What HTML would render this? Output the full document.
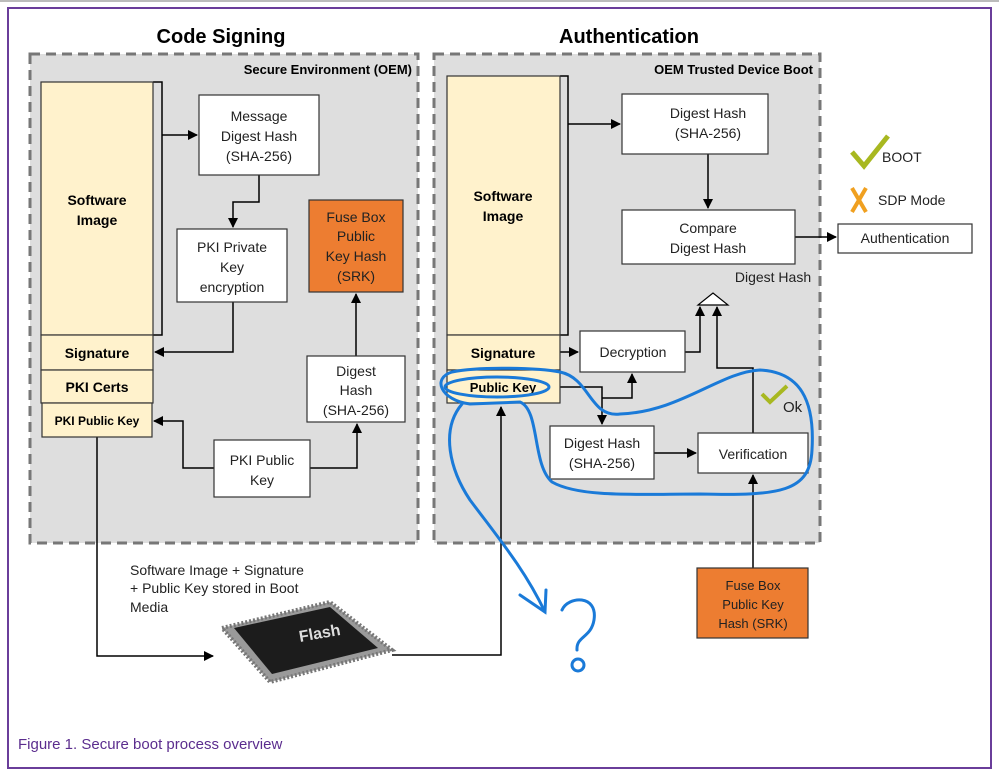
<!DOCTYPE html>
<html><head><style>
html,body{margin:0;padding:0;background:#fff;}
svg{display:block;font-family:"Liberation Sans",sans-serif;}
.b{font-weight:bold;}
</style></head><body>
<svg width="999" height="779" viewBox="0 0 999 779" xmlns="http://www.w3.org/2000/svg">
<defs>
<marker id="a" markerWidth="10" markerHeight="10" refX="9" refY="5" orient="auto" markerUnits="userSpaceOnUse"><path d="M0,0 L10,5 L0,10 Z" fill="#000"/></marker>
</defs>
<rect x="0" y="0" width="999" height="2" fill="#bbb"/>
<rect x="8" y="8" width="983" height="760" fill="#fff" stroke="#6a3d9a" stroke-width="2"/>
<text x="221" y="43" font-size="20" class="b" text-anchor="middle">Code Signing</text>
<text x="629" y="43" font-size="20" class="b" text-anchor="middle">Authentication</text>
<rect x="30" y="54" width="388" height="489" fill="#dedede" stroke="#777" stroke-width="3" stroke-dasharray="10,6"/>
<rect x="434" y="54" width="386" height="489" fill="#dedede" stroke="#777" stroke-width="3" stroke-dasharray="10,6"/>
<text x="412" y="74" font-size="13" class="b" text-anchor="end">Secure Environment (OEM)</text>
<text x="813" y="74" font-size="13" class="b" text-anchor="end">OEM Trusted Device Boot</text>
<g stroke="#000" stroke-width="1.5" fill="none">
<path d="M153,82 H162 V335 H153"/>
<path d="M162,135 H197" marker-end="url(#a)"/>
<path d="M259,175 V202 H233 V227" marker-end="url(#a)"/>
<path d="M233,302 V352 H155" marker-end="url(#a)"/>
<path d="M356,356 V294" marker-end="url(#a)"/>
<path d="M214,468 H183 V421 H154" marker-end="url(#a)"/>
<path d="M310,468 H357 V424" marker-end="url(#a)"/>
<path d="M97,437 V656 H213" marker-end="url(#a)"/>
<path d="M392,655 H501 V407" marker-end="url(#a)"/>
<path d="M560,76 H568 V335 H560"/>
<path d="M568,124 H620" marker-end="url(#a)"/>
<path d="M708,154 V208" marker-end="url(#a)"/>
<path d="M795,237 H836" marker-end="url(#a)"/>
<path d="M560,352 H578" marker-end="url(#a)"/>
<path d="M685,352 H700 V307" marker-end="url(#a)"/>
<path d="M753,433 V368 H717 V307" marker-end="url(#a)"/>
<path d="M560,387 H602 V424" marker-end="url(#a)"/>
<path d="M602,398 H632 V374" marker-end="url(#a)"/>
<path d="M654,453 H696" marker-end="url(#a)"/>
<path d="M753,568 V475" marker-end="url(#a)"/>
</g>
<polygon points="698,305 728,305 713,293" fill="#fff" stroke="#000" stroke-width="1.2"/>
<g stroke="#333" stroke-width="1.2" fill="#fff2cc">
<rect x="41" y="82" width="112" height="253"/>
<rect x="41" y="335" width="112" height="35"/>
<rect x="41" y="370" width="112" height="33"/>
<rect x="42" y="403" width="110" height="34"/>
<rect x="447" y="76" width="113" height="259"/>
<rect x="447" y="335" width="113" height="35"/>
<rect x="447" y="370" width="113" height="33"/>
</g>
<g font-size="14" class="b" text-anchor="middle">
<text x="97" y="205">Software</text><text x="97" y="225">Image</text>
<text x="97" y="358">Signature</text>
<text x="97" y="392">PKI Certs</text>
<text x="97" y="425" font-size="12">PKI Public Key</text>
<text x="503" y="201">Software</text><text x="503" y="221">Image</text>
<text x="503" y="358">Signature</text>
<text x="503" y="392" font-size="13">Public Key</text>
</g>
<g stroke="#333" stroke-width="1.2" fill="#fff">
<rect x="199" y="95" width="120" height="80"/>
<rect x="177" y="229" width="110" height="73"/>
<rect x="307" y="356" width="98" height="66"/>
<rect x="214" y="440" width="96" height="57"/>
<rect x="622" y="94" width="146" height="60"/>
<rect x="622" y="210" width="173" height="54"/>
<rect x="838" y="224" width="134" height="29"/>
<rect x="580" y="331" width="105" height="41"/>
<rect x="550" y="426" width="104" height="53"/>
<rect x="698" y="433" width="110" height="40"/>
</g>
<g fill="#ed7d31" stroke="#333" stroke-width="1.2">
<rect x="309" y="200" width="94" height="92"/>
<rect x="697" y="568" width="111" height="70"/>
</g>
<g font-size="14" text-anchor="middle" fill="#222">
<text x="259" y="121">Message</text><text x="259" y="141">Digest Hash</text><text x="259" y="161">(SHA-256)</text>
<text x="232" y="252">PKI Private</text><text x="232" y="272">Key</text><text x="232" y="292">encryption</text>
<text x="356" y="222">Fuse Box</text><text x="356" y="241">Public</text><text x="356" y="261">Key Hash</text><text x="356" y="281">(SRK)</text>
<text x="356" y="376">Digest</text><text x="356" y="395">Hash</text><text x="356" y="415">(SHA-256)</text>
<text x="262" y="465">PKI Public</text><text x="262" y="485">Key</text>
<text x="708" y="118">Digest Hash</text><text x="708" y="138">(SHA-256)</text>
<text x="708" y="233">Compare</text><text x="708" y="253">Digest Hash</text>
<text x="905" y="243">Authentication</text>
<text x="773" y="282">Digest Hash</text>
<text x="633" y="357">Decryption</text>
<text x="602" y="448">Digest Hash</text><text x="602" y="468">(SHA-256)</text>
<text x="753" y="459">Verification</text>
<text x="753" y="590" font-size="13">Fuse Box</text><text x="753" y="609" font-size="13">Public Key</text><text x="753" y="628" font-size="13">Hash (SRK)</text>
</g>
<g font-size="14" fill="#222">
<text x="130" y="575">Software Image + Signature</text>
<text x="130" y="593">+ Public Key stored in Boot</text>
<text x="130" y="612">Media</text>
<text x="882" y="162">BOOT</text>
<text x="878" y="205">SDP Mode</text>
<text x="783" y="412" font-size="15">Ok</text>
</g>
<path d="M852,152 L864,166 L888,136" stroke="#a8b820" stroke-width="5" fill="none"/>
<path d="M852,188 L866,212 M866,188 L852,212" stroke="#f0a020" stroke-width="4" fill="none"/>
<path d="M762,394 L770,402 L787,386" stroke="#a8b820" stroke-width="4" fill="none"/>
<!-- chip -->
<polygon points="222,628 330,602 392,650 270,682" fill="#9a9a9a" stroke="#777" stroke-width="4" stroke-dasharray="2,2"/>
<polygon points="234,628 330,607 378,648 272,674" fill="#1c1c1c"/>
<text x="300" y="642" font-size="16" class="b" fill="#ddd" transform="rotate(-10 300 642)">Flash</text>
<g stroke="#1a7ad8" stroke-width="3" fill="none" stroke-linecap="round">
<ellipse cx="497" cy="387" rx="52" ry="10"/>
<path d="M452,372 C480,366 540,368 560,372 C590,378 590,418 620,414 C680,412 720,372 760,370 C800,372 815,400 812,450 C810,492 780,496 700,494 C640,494 580,498 552,482 C532,465 540,410 520,402 L470,404 C440,400 432,378 452,372"/>
<path d="M462,404 C440,430 450,470 470,500 C500,540 525,570 545,612"/>
<path d="M520,595 L545,612 L546,590"/>
<path d="M562,610 C568,596 598,594 594,620 C591,638 576,636 577,650"/>
<circle cx="578" cy="665" r="6"/>
</g>
<text x="18" y="749" font-size="15" fill="#5b2d8e">Figure 1.  Secure boot process overview</text>
</svg>
</body></html>
